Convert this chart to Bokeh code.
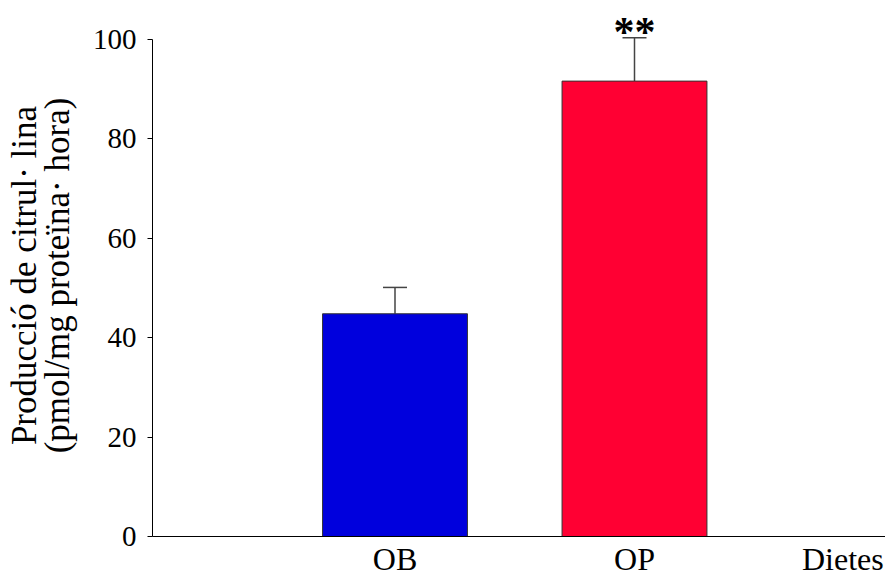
from bokeh.plotting import figure
from bokeh.models import ColumnDataSource, Whisker, TeeHead, FixedTicker, Label, Range1d
from bokeh.embed import file_html
from bokeh.resources import INLINE

categories = ["OB", "OP"]
positions = [1, 2]
values = [44.8, 91.6]
errors = [5.3, 8.7]
colors = ["#0000dd", "#ff0033"]
y_ticks = [0, 20, 40, 60, 80, 100]
x_title = "Dietes"
x_title_pos = 2.87
y_title = "Producció de citrul· lina\n(pmol/mg proteïna· hora)"
signif = "**"

FONT = "Liberation Serif"

src = ColumnDataSource(dict(
    x=positions, top=values, color=colors,
    upper=[v + e for v, e in zip(values, errors)],
    lower=values,
))

p = figure(width=885, height=579, output_backend="svg", toolbar_location=None,
           x_range=Range1d(-0.0125, 3.048), y_range=Range1d(0, 105.0),
           min_border_left=152, min_border_right=0, min_border_top=14,
           min_border_bottom=43)
p.outline_line_color = None
p.xgrid.visible = False
p.ygrid.visible = False
p.background_fill_color = "white"

p.vbar(x="x", top="top", width=0.605, bottom=0, fill_color="color",
       line_color="#333333", line_width=1, source=src)

wh = Whisker(base="x", upper="upper", lower="lower", source=src,
             line_color="#444444", line_width=1.5,
             upper_head=TeeHead(size=24, line_color="#444444", line_width=1.5),
             lower_head=None)
p.add_layout(wh)

p.add_layout(Label(x=positions[1], y=101.4, text=signif, text_align="center",
                   text_baseline="middle", text_font=FONT,
                   text_font_size="42px", text_font_style="bold",
                   text_color="black"))

# y axis
p.yaxis.ticker = FixedTicker(ticks=y_ticks)
p.yaxis.bounds = (0, 100)
p.yaxis.minor_tick_line_color = None
p.yaxis.major_tick_in = 0
p.yaxis.major_tick_out = 5
p.yaxis.major_label_standoff = 11
p.yaxis.major_label_text_font = FONT
p.yaxis.major_label_text_font_size = "29px"
p.yaxis.major_label_text_color = "black"
p.yaxis.axis_line_color = "black"
p.yaxis.major_tick_line_color = "black"
p.yaxis.axis_label = y_title
p.yaxis.axis_label_text_font = FONT
p.yaxis.axis_label_text_font_size = "35px"
p.yaxis.axis_label_text_font_style = "normal"
p.yaxis.axis_label_text_color = "black"
p.yaxis.axis_label_text_line_height = 0.85
p.yaxis.axis_label_standoff = 13

# x axis
p.xaxis.ticker = FixedTicker(ticks=positions + [x_title_pos])
overrides = {positions[i]: categories[i] for i in range(len(categories))}
overrides[x_title_pos] = x_title
p.xaxis.major_label_overrides = overrides
p.xaxis.minor_tick_line_color = None
p.xaxis.major_tick_line_color = None
p.xaxis.major_tick_in = 0
p.xaxis.major_tick_out = 0
p.xaxis.major_label_standoff = 4
p.xaxis.major_label_text_font = FONT
p.xaxis.major_label_text_font_size = "32px"
p.xaxis.major_label_text_color = "black"
p.xaxis.axis_line_color = "black"

open("out.html", "w").write(file_html(p, INLINE))
